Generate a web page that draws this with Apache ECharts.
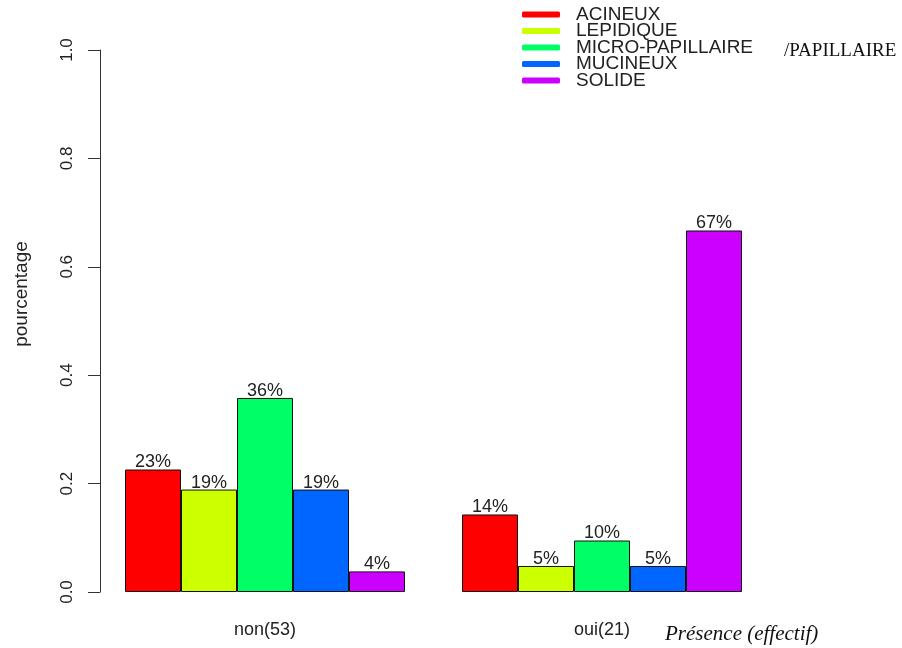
<!DOCTYPE html>
<html>
<head>
<meta charset="utf-8">
<script src="https://cdn.jsdelivr.net/npm/echarts@6/dist/echarts.min.js"></script>
<style>
  html, body { margin: 0; padding: 0; background: #ffffff; }
  #chart { width: 902px; height: 648px; }
</style>
</head>
<body>
<div id="chart"></div>
<script>
// Groups on the x axis (presence, with group size)
const categories = ['non(53)', 'oui(21)'];

// Histological subtypes, one series each
const subtypes = ['ACINEUX', 'LEPIDIQUE', 'MICRO-PAPILLAIRE', 'MUCINEUX', 'SOLIDE'];

// Proportion of each subtype within each group (non, oui)
const acineux   = [0.226, 0.143];
const lepidique = [0.189, 0.048];
const micropap  = [0.358, 0.095];
const mucineux  = [0.189, 0.048];
const solide    = [0.038, 0.667];

const seriesValues = [acineux, lepidique, micropap, mucineux, solide];
const colors = ['#FF0000', '#CCFF00', '#00FF66', '#0066FF', '#CC00FF'];

// y axis tick labels
const yTicks = [0, 0.2, 0.4, 0.6, 0.8, 1.0];

const sans = 'Liberation Sans, Arial, Helvetica, sans-serif';
const serif = 'Liberation Serif, Times New Roman, serif';

const chart = echarts.init(document.getElementById('chart'));

const series = subtypes.map((name, i) => ({
  name: name,
  type: 'bar',
  data: seriesValues[i],
  barWidth: 56,
  barGap: '0%',
  itemStyle: { color: colors[i], borderColor: '#111', borderWidth: 1 },
  label: {
    show: true,
    position: 'top',
    distance: -2,
    color: '#222',
    fontFamily: sans,
    fontSize: 18,
    formatter: p => Math.round(p.value * 100) + '%'
  }
}));

chart.setOption({
  animation: false,
  backgroundColor: '#ffffff',
  color: colors,
  grid: { left: 96.5, right: 131.5, top: 50, bottom: 56, containLabel: false },
  legend: {
    orient: 'vertical',
    left: 517,
    top: 0,
    itemWidth: 38,
    itemHeight: 6,
    itemGap: -2.5,
    icon: 'roundRect',
    itemStyle: { borderWidth: 0 },
    selectedMode: false,
    data: subtypes,
    textStyle: {
      fontFamily: sans,
      fontSize: 19,
      color: '#222',
      padding: [0, 0, 0, 11]
    }
  },
  xAxis: {
    type: 'category',
    data: categories,
    axisLine: { show: false },
    axisTick: { show: false },
    axisLabel: { margin: 29, fontFamily: sans, fontSize: 18, color: '#222' }
  },
  yAxis: {
    type: 'value',
    min: 0,
    max: 1,
    interval: 0.2,
    offset: -3.5,
    splitLine: { show: false },
    axisLine: { show: true, lineStyle: { color: '#333', width: 1 } },
    axisTick: { show: true, length: 12, lineStyle: { color: '#333' } },
    axisLabel: {
      rotate: 90,
      margin: 24,
      fontFamily: sans,
      fontSize: 17,
      color: '#222',
      formatter: v => {
        const t = yTicks.find(x => Math.abs(x - v) < 1e-9);
        return (t === undefined ? v : t).toFixed(1);
      }
    }
  },
  graphic: [
    {
      type: 'text',
      x: 22, y: 294,
      rotation: Math.PI / 2,
      style: {
        text: 'pourcentage',
        font: '19px ' + sans,
        fill: '#222',
        align: 'center',
        verticalAlign: 'middle'
      }
    },
    {
      type: 'text',
      x: 784, y: 51,
      style: {
        text: '/PAPILLAIRE',
        font: '19px ' + serif,
        fill: '#111',
        align: 'left',
        verticalAlign: 'middle'
      }
    },
    {
      type: 'text',
      x: 665, y: 634,
      style: {
        text: 'Présence (effectif)',
        font: 'italic 21px ' + serif,
        fill: '#111',
        align: 'left',
        verticalAlign: 'middle'
      }
    }
  ],
  series: series
});
</script>
</body>
</html>
